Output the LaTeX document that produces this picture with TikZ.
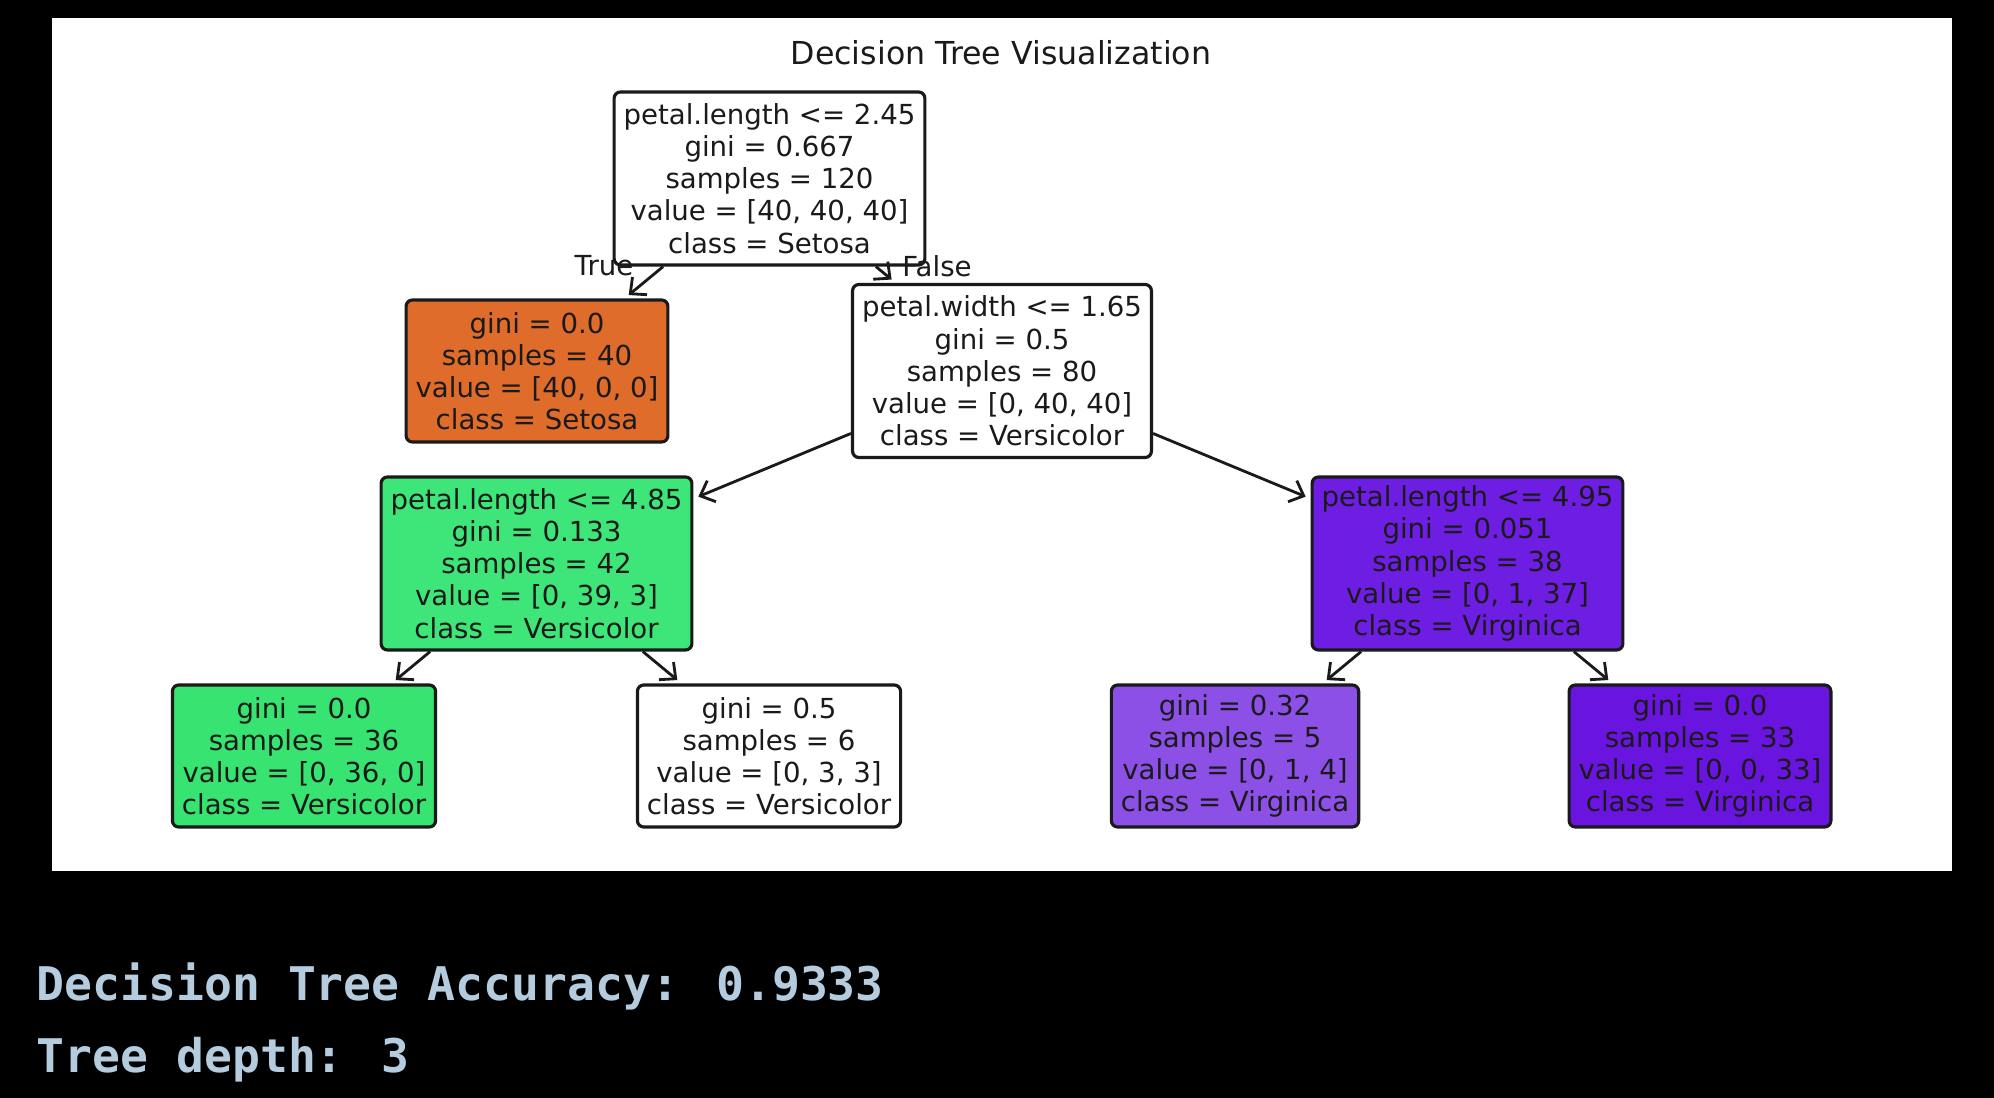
\documentclass[tikz,border=0pt]{standalone}
\usepackage{fontspec}
\setmainfont{DejaVu Sans}
\newfontfamily\consolefont{DejaVu Sans Mono}
\usetikzlibrary{arrows.meta}
\definecolor{ink}{HTML}{1A1A1A}
\definecolor{setosa}{HTML}{E06C2C}
\definecolor{versi}{HTML}{3EE67A}
\definecolor{versileaf}{HTML}{37E471}
\definecolor{virgin}{HTML}{6E1EE2}
\definecolor{virginleaf}{HTML}{6A14E0}
\definecolor{virginmix}{HTML}{8C50E6}
\definecolor{console}{HTML}{B4CCDE}

\begin{document}
\begin{tikzpicture}[>={Straight Barb[length=3.5pt,width=6.5pt]},level distance=1.925cm]
\tikzstyle{box}=[draw=ink,text=ink,line width=0.9pt,rounded corners=1.8pt,align=center,inner xsep=2.7pt,inner ysep=0pt,font=\fontsize{7.85}{9.15}\selectfont]
\tikzstyle{split}=[box,minimum height=1.73cm]
\tikzstyle{leaf}=[box,minimum height=1.42cm]
\tikzstyle{branch}=[text=ink,inner sep=0pt,font=\fontsize{7.85}{9.15}\selectfont]
\tikzstyle{level 1}=[sibling distance=4.65cm]
\tikzstyle{level 2}=[sibling distance=9.31cm]
\tikzstyle{level 3}=[sibling distance=4.65cm]

% page and plot area
\fill[black] (0,0) rectangle (19.94,-10.98);
\fill[white] (0.52,-0.18) rectangle (19.52,-8.71);
\useasboundingbox (0,0) rectangle (19.94,-10.98);

\node[branch,font=\fontsize{9}{11}\selectfont] (title) at (10.01,-0.53) {Decision Tree Visualization};

\node[split,fill=white] (root) at (7.695,-1.785) {petal.length <= 2.45\\gini = 0.667\\samples = 120\\value = [40, 40, 40]\\class = Setosa} [->,draw=ink,line width=0.8pt,shorten >=1.5pt]
  child {node[leaf,fill=setosa] (setosa) {gini = 0.0\\samples = 40\\value = [40, 0, 0]\\class = Setosa}}
  child {node[split,fill=white] (width) {petal.width <= 1.65\\gini = 0.5\\samples = 80\\value = [0, 40, 40]\\class = Versicolor}
    child {node[split,fill=versi] (lenlo) {petal.length <= 4.85\\gini = 0.133\\samples = 42\\value = [0, 39, 3]\\class = Versicolor}
      child {node[leaf,fill=versileaf] (leafa) {gini = 0.0\\samples = 36\\value = [0, 36, 0]\\class = Versicolor}}
      child {node[leaf,fill=white] (leafb) {gini = 0.5\\samples = 6\\value = [0, 3, 3]\\class = Versicolor}}
    }
    child {node[split,fill=virgin] (lenhi) {petal.length <= 4.95\\gini = 0.051\\samples = 38\\value = [0, 1, 37]\\class = Virginica}
      child {node[leaf,fill=virginmix] (leafc) {gini = 0.32\\samples = 5\\value = [0, 1, 4]\\class = Virginica}}
      child {node[leaf,fill=virginleaf] (leafd) {gini = 0.0\\samples = 33\\value = [0, 0, 33]\\class = Virginica}}
    }
  };

\node[branch] (truelbl) at (6.04,-2.66) {True};
\node[branch] (falselbl) at (9.37,-2.66) {False};

% console output
\node[anchor=base west,inner sep=0pt,text=console,font=\consolefont\bfseries\fontsize{13.2}{16}\selectfont] (acc) at (0.36,-10.01) {Decision Tree Accuracy: 0.9333};
\node[anchor=base west,inner sep=0pt,text=console,font=\consolefont\bfseries\fontsize{13.2}{16}\selectfont] (depth) at (0.36,-10.73) {Tree depth: 3};
\end{tikzpicture}
\end{document}
